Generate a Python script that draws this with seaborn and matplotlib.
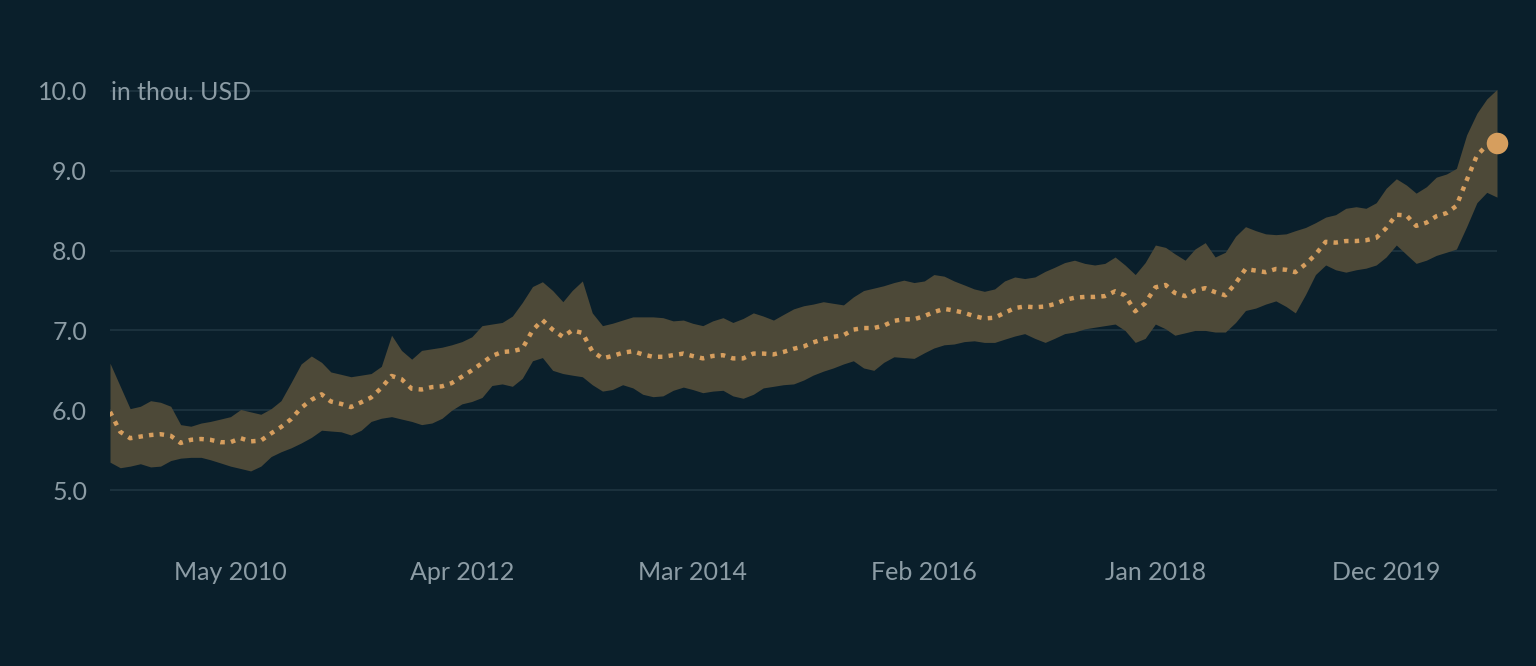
import numpy as np
import pandas as pd
import matplotlib
matplotlib.use("Agg")
import matplotlib.pyplot as plt
import seaborn as sns

# ---------------- data (monthly, May 2009 .. Nov 2020) ----------------
start_month = "2009-05-01"
center = [
    5.98, 5.73, 5.65, 5.67, 5.69, 5.70, 5.68, 5.59, 5.63, 5.64,
    5.63, 5.60, 5.60, 5.65, 5.61, 5.62, 5.71, 5.79, 5.89, 6.03,
    6.13, 6.20, 6.11, 6.08, 6.04, 6.10, 6.16, 6.28, 6.43, 6.39,
    6.27, 6.26, 6.29, 6.30, 6.34, 6.42, 6.50, 6.59, 6.68, 6.73,
    6.74, 6.77, 7.00, 7.13, 7.01, 6.92, 7.00, 6.97, 6.74, 6.65,
    6.68, 6.72, 6.74, 6.70, 6.67, 6.67, 6.69, 6.71, 6.68, 6.65,
    6.68, 6.69, 6.65, 6.65, 6.71, 6.71, 6.70, 6.73, 6.77, 6.80,
    6.85, 6.89, 6.92, 6.94, 7.01, 7.03, 7.03, 7.06, 7.12, 7.14,
    7.14, 7.18, 7.23, 7.27, 7.25, 7.22, 7.18, 7.15, 7.16, 7.22,
    7.28, 7.30, 7.29, 7.30, 7.33, 7.38, 7.41, 7.42, 7.42, 7.43,
    7.49, 7.44, 7.24, 7.34, 7.54, 7.57, 7.47, 7.43, 7.50, 7.53,
    7.48, 7.44, 7.59, 7.77, 7.75, 7.73, 7.77, 7.76, 7.73, 7.83,
    7.95, 8.11, 8.10, 8.12, 8.12, 8.13, 8.16, 8.28, 8.45, 8.44,
    8.31, 8.35, 8.43, 8.47, 8.56, 8.88, 9.19, 9.32, 9.35,
]
upper = [
    6.59, 6.30, 6.02, 6.05, 6.12, 6.10, 6.05, 5.82, 5.80, 5.84,
    5.86, 5.89, 5.92, 6.01, 5.98, 5.95, 6.02, 6.12, 6.35, 6.58,
    6.68, 6.60, 6.48, 6.45, 6.42, 6.44, 6.46, 6.55, 6.94, 6.75,
    6.64, 6.75, 6.77, 6.79, 6.82, 6.86, 6.92, 7.06, 7.08, 7.10,
    7.18, 7.35, 7.55, 7.61, 7.50, 7.36, 7.50, 7.62, 7.22, 7.06,
    7.09, 7.13, 7.17, 7.17, 7.17, 7.16, 7.12, 7.13, 7.09, 7.06,
    7.12, 7.16, 7.10, 7.15, 7.22, 7.18, 7.13, 7.20, 7.27, 7.31,
    7.33, 7.36, 7.34, 7.32, 7.42, 7.50, 7.53, 7.56, 7.60, 7.63,
    7.60, 7.62, 7.70, 7.68, 7.62, 7.57, 7.52, 7.49, 7.52, 7.62,
    7.67, 7.65, 7.67, 7.74, 7.79, 7.85, 7.88, 7.84, 7.82, 7.84,
    7.92, 7.82, 7.70, 7.85, 8.07, 8.04, 7.96, 7.88, 8.02, 8.10,
    7.92, 7.98, 8.18, 8.30, 8.25, 8.21, 8.20, 8.21, 8.25, 8.29,
    8.35, 8.42, 8.45, 8.53, 8.55, 8.53, 8.60, 8.78, 8.90, 8.82,
    8.72, 8.80, 8.92, 8.96, 9.03, 9.45, 9.72, 9.90, 10.02,
]
lower = [
    5.35, 5.28, 5.30, 5.33, 5.29, 5.30, 5.37, 5.40, 5.41, 5.41,
    5.38, 5.34, 5.30, 5.27, 5.24, 5.30, 5.42, 5.48, 5.53, 5.59,
    5.66, 5.75, 5.74, 5.73, 5.69, 5.75, 5.86, 5.90, 5.92, 5.89,
    5.86, 5.82, 5.84, 5.90, 6.00, 6.08, 6.11, 6.16, 6.31, 6.33,
    6.30, 6.40, 6.62, 6.66, 6.50, 6.46, 6.44, 6.42, 6.32, 6.24,
    6.26, 6.32, 6.28, 6.20, 6.17, 6.18, 6.25, 6.29, 6.26, 6.22,
    6.24, 6.25, 6.18, 6.15, 6.20, 6.28, 6.30, 6.32, 6.33, 6.38,
    6.44, 6.49, 6.53, 6.58, 6.62, 6.53, 6.50, 6.60, 6.67, 6.66,
    6.65, 6.72, 6.78, 6.82, 6.83, 6.86, 6.87, 6.85, 6.85, 6.89,
    6.93, 6.96, 6.90, 6.85, 6.90, 6.96, 6.98, 7.02, 7.04, 7.06,
    7.08, 7.00, 6.85, 6.90, 7.08, 7.02, 6.94, 6.97, 7.00, 7.00,
    6.98, 6.98, 7.10, 7.25, 7.28, 7.33, 7.37, 7.30, 7.22, 7.45,
    7.70, 7.82, 7.76, 7.73, 7.76, 7.78, 7.82, 7.92, 8.07, 7.95,
    7.84, 7.88, 7.94, 7.98, 8.02, 8.30, 8.60, 8.73, 8.67,
]
y_ticks = [5.0, 6.0, 7.0, 8.0, 9.0, 10.0]
x_tick_labels = ["May 2010", "Apr 2012", "Mar 2014", "Feb 2016", "Jan 2018", "Dec 2019"]
unit_label = "in thou. USD"

dates = pd.date_range(start_month, periods=len(center), freq="MS")
df = pd.DataFrame({"date": dates, "value": center, "lo": lower, "hi": upper})

# ---------------- style ----------------
BG = "#0a1f2b"
BAND = "#4d4938"
LINE = "#d69e5e"
GRID = "#1d3340"
TXT = "#8c9ca5"

sns.set_theme(style="dark")
plt.rcParams["font.family"] = ["Lato", "DejaVu Sans"]

fig = plt.figure(figsize=(15.36, 6.66), dpi=100, facecolor=BG)
ax = fig.add_axes([110 / 1536, 1 - 530 / 666, 1387 / 1536, 455 / 666])
ax.set_facecolor(BG)

ax.fill_between(df["date"], df["lo"], df["hi"], color=BAND, linewidth=0, zorder=2)
sns.lineplot(data=df, x="date", y="value", ax=ax, color=LINE, linewidth=3.2,
             zorder=3, legend=False)
line = ax.lines[-1]
line.set_dashes((1.0, 1.4))
line.set_dash_capstyle("butt")
ax.scatter([df["date"].iloc[-1]], [df["value"].iloc[-1]], s=240, color=LINE,
           zorder=4, clip_on=False, linewidths=0)

ax.set_xlim(df["date"].iloc[0], df["date"].iloc[-1])
ax.set_ylim(4.5, 10.2)

tick_dates = [pd.to_datetime(s, format="%b %Y") for s in x_tick_labels]
ax.set_xticks(tick_dates)
ax.set_xticklabels(x_tick_labels)
ax.set_yticks(y_ticks)
ax.set_yticklabels([f"{v:.1f}" for v in y_ticks])

ax.tick_params(axis="both", length=0, colors=TXT, labelsize=18)
ax.tick_params(axis="x", pad=22)
ax.tick_params(axis="y", pad=16.5)
ax.grid(False)
for v in y_ticks:
    ax.axhline(v, color=GRID, linewidth=1.3, zorder=1)
for s in ax.spines.values():
    s.set_visible(False)
ax.set_xlabel("")
ax.set_ylabel("")

ax.text(0.001, 10.0, unit_label, transform=ax.get_yaxis_transform(),
        ha="left", va="center_baseline", color=TXT, fontsize=18, zorder=5)

fig.savefig("out.png", dpi=100, facecolor=BG)
